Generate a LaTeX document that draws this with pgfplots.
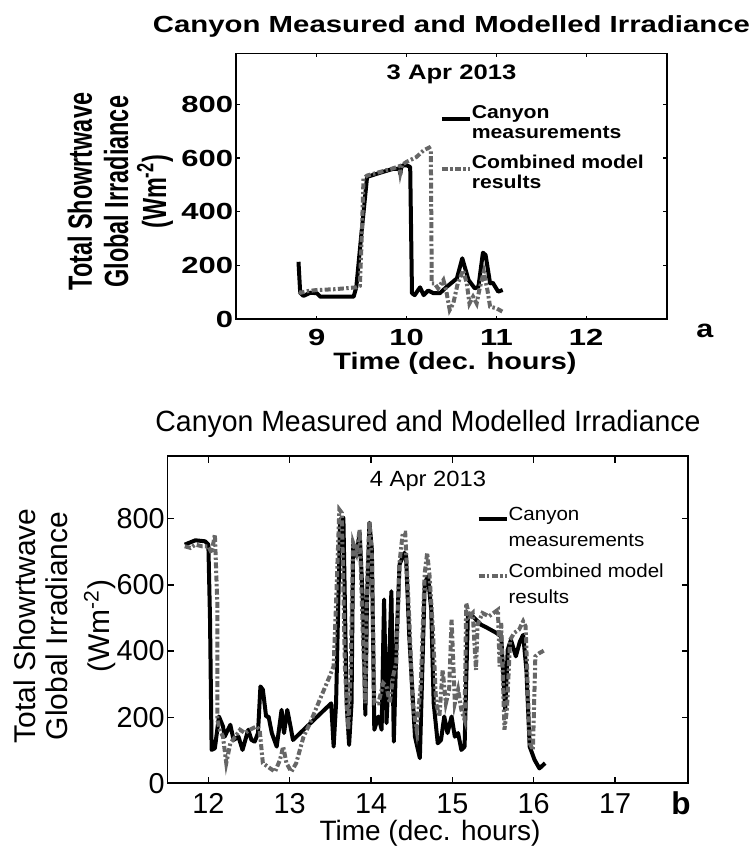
\documentclass[border=0pt]{standalone}
\usepackage{pgfplots}
\pgfplotsset{compat=1.18}
\usepackage{fontspec}
\setmainfont{Liberation Sans}
\newfontfamily\TopFont[FakeStretch=1.22]{Liberation Sans}
\newfontfamily\TopTitleFont[FakeStretch=1.26]{Liberation Sans}
\newfontfamily\TopTickFont[FakeStretch=1.33]{Liberation Sans}
\newfontfamily\TopYFont[FakeStretch=0.70]{Liberation Sans}
\newfontfamily\TopLegFont[FakeStretch=1.14]{Liberation Sans}
\newfontfamily\BotFont{Liberation Sans}
\newfontfamily\BotTitleFont[FakeStretch=0.97]{Liberation Sans}
\newfontfamily\BotWideFont[FakeStretch=1.08]{Liberation Sans}
\definecolor{modelgray}{RGB}{102,102,102}

\pgfplotsset{
  common/.style={
    scale only axis,
    ymin=0, ymax=990,
    ytick={0,200,400,600,800},
    /pgf/number format/assume math mode=true,
    axis line style={line width=0.8pt},
    tick style={line width=0.6pt, black},
    tick align=inside,
    legend cell align=left,
    legend image code/.code={\draw[##1] (0pt,0pt) -- (14pt,0pt);},
  },
  measured/.style={black, line width=2pt, line join=round},
  model/.style={modelgray, line width=2pt, dash pattern=on 3pt off 1.2pt on 1.2pt off 1.2pt},
}

\begin{document}
\begin{tikzpicture}
\useasboundingbox (0,0) rectangle (376.5pt,424pt);

% ---------------- top panel ----------------
\begin{axis}[common,
  at={(118pt,264.35pt)}, anchor=south west,
  width=215.5pt, height=133pt,
  xmin=8.1, xmax=12.9,
  xtick={9,10,11,12},
  major tick length=1.8pt,
  yticklabel style={font=\TopTickFont\bfseries\fontsize{11.65}{13}\selectfont, anchor=east, inner sep=0pt, xshift=-1.2pt},
  xticklabel style={font=\TopTickFont\bfseries\fontsize{11.65}{13}\selectfont, anchor=north, inner sep=0pt, yshift=-4.9pt},
  legend style={at={(0.472,0.8066)}, anchor=north west, draw=none, fill=none, inner sep=0pt,
    column sep=0pt, row sep=11.5pt,
    font=\TopLegFont\bfseries\fontsize{9.3}{9.75}\selectfont,
    nodes={inner sep=0pt}},
]
\addplot[measured] coordinates {
(8.796,214) (8.815,99) (8.85,87) (8.93,99) (9.0,97) (9.04,84) (9.41,84) (9.44,120)
(9.5,330) (9.56,530) (9.7,545) (9.85,560) (9.92,560) (9.93,540) (9.94,565) (9.96,573)
(10.0,573) (10.04,567) (10.06,97) (10.09,90) (10.15,119) (10.19,90) (10.24,107) (10.3,97)
(10.37,97) (10.44,119) (10.56,152) (10.62,227) (10.69,146) (10.76,115) (10.8,121)
(10.85,248) (10.88,239) (10.93,134) (10.96,136) (11.02,103) (11.07,109)
};
\addlegendentry{\begin{tabular}{@{}l@{}}Canyon\\measurements\end{tabular}}
\addplot[model] coordinates {
(8.8,103) (8.82,99) (8.9,105) (9.0,109) (9.2,112) (9.44,119) (9.48,125) (9.5,300)
(9.52,524) (9.56,535) (9.7,548) (9.85,562) (9.92,570) (9.93,545) (9.95,575) (10.0,586)
(10.11,604) (10.19,629) (10.25,639) (10.27,629) (10.28,134) (10.31,134) (10.35,115)
(10.41,146) (10.44,109) (10.48,35) (10.52,59) (10.57,134) (10.63,183) (10.67,134)
(10.7,59) (10.74,84) (10.78,59) (10.81,109) (10.86,177) (10.9,109) (10.93,47)
(11.0,41) (11.07,28)
};
\addlegendentry{\begin{tabular}{@{}l@{}}Combined model\\results\end{tabular}}
\end{axis}

% ---------------- bottom panel ----------------
\begin{axis}[common,
  at={(83.85pt,32.35pt)}, anchor=south west,
  width=260.3pt, height=163.65pt,
  xmin=11.5, xmax=17.9,
  xtick={12,13,14,15,16,17},
  major tick length=3.3pt,
  yticklabel style={font=\BotFont\fontsize{14.4}{16}\selectfont, anchor=east, inner sep=0pt, xshift=-1.35pt},
  xticklabel style={font=\BotFont\fontsize{14.4}{16}\selectfont, anchor=north, inner sep=0pt, yshift=-5pt},
  legend style={at={(0.5927,0.8587)}, anchor=north west, draw=none, fill=none, inner sep=0pt,
    column sep=0pt, row sep=11.5pt,
    font=\BotWideFont\fontsize{9.5}{13}\selectfont,
    nodes={inner sep=0pt}},
]
\addplot[measured] coordinates {
(11.71,722) (11.84,735) (11.96,732) (12.0,722) (12.02,500) (12.04,101) (12.08,106)
(12.13,202) (12.18,172) (12.2,141) (12.27,177) (12.31,131) (12.37,141) (12.42,101)
(12.49,162) (12.53,131) (12.57,126) (12.61,152) (12.64,293) (12.67,283) (12.71,202)
(12.74,202) (12.78,152) (12.84,111) (12.9,222) (12.93,152) (12.97,222) (13.01,172)
(13.04,131) (13.51,242) (13.54,111) (13.57,242) (13.62,798) (13.66,803) (13.7,242)
(13.73,116) (13.76,242) (13.78,722) (13.82,687) (13.86,758) (13.9,545) (13.93,207)
(13.95,545) (13.98,788) (14.01,707) (14.04,162) (14.09,202) (14.13,162) (14.16,556)
(14.19,182) (14.22,343) (14.25,581) (14.28,126) (14.31,404) (14.35,662) (14.41,697)
(14.43,687) (14.47,444) (14.54,141) (14.6,76) (14.66,606) (14.70,626) (14.74,525)
(14.77,242) (14.82,121) (14.86,131) (14.9,202) (14.94,152) (14.99,202) (15.03,141)
(15.07,152) (15.11,101) (15.15,111) (15.19,505) (15.25,505) (15.35,480) (15.43,470)
(15.54,455) (15.6,444) (15.65,222) (15.68,404) (15.72,434) (15.78,384) (15.83,429)
(15.87,449) (15.91,343) (15.95,111) (16.01,71) (16.07,45) (16.14,61)
};
\addlegendentry{\begin{tabular}{@{}l@{}}Canyon\\measurements\end{tabular}}
\addplot[model] coordinates {
(11.71,717) (11.78,712) (11.84,722) (11.92,717) (12.0,717) (12.04,697) (12.08,753)
(12.11,545) (12.11,192) (12.14,162) (12.18,141) (12.22,61) (12.27,121) (12.33,141)
(12.39,162) (12.45,152) (12.51,162) (12.59,172) (12.63,162) (12.67,61) (12.76,45)
(12.82,35) (12.88,71) (12.92,111) (12.96,61) (13.02,35) (13.08,61) (13.17,141)
(13.25,182) (13.37,253) (13.49,323) (13.54,354) (13.57,545) (13.61,828) (13.64,818)
(13.68,343) (13.72,162) (13.75,343) (13.78,727) (13.82,697) (13.86,768) (13.9,444)
(13.93,242) (13.95,596) (13.98,793) (14.01,687) (14.04,242) (14.09,242) (14.15,303)
(14.19,293) (14.23,242) (14.27,323) (14.31,364) (14.35,667) (14.39,758) (14.42,758)
(14.47,495) (14.51,242) (14.56,162) (14.61,293) (14.66,636) (14.69,697) (14.72,626)
(14.76,465) (14.8,242) (14.84,202) (14.88,343) (14.92,242) (14.96,283) (14.99,495)
(15.03,242) (15.07,283) (15.11,222) (15.15,192) (15.17,545) (15.21,505) (15.25,515)
(15.29,343) (15.31,480) (15.37,515) (15.45,505) (15.56,525) (15.58,353) (15.6,485)
(15.64,162) (15.67,222) (15.71,434) (15.76,455) (15.82,465) (15.87,490) (15.9,475)
(15.95,121) (15.99,101) (16.02,384) (16.07,394) (16.13,402)
};
\addlegendentry{\begin{tabular}{@{}l@{}}Combined model\\results\end{tabular}}
\end{axis}

% ---------------- texts (pixel coordinates from top left) ----------------
\begin{scope}[x=0.5pt,y=-0.5pt,shift={(0pt,424pt)}]
% top panel
\node[anchor=base, inner sep=0pt, font=\TopTitleFont\bfseries\fontsize{11.65}{14}\selectfont] at (451.5,32.7) {Canyon Measured and Modelled Irradiance};
\node[anchor=base, inner sep=0pt, font=\TopFont\bfseries\fontsize{10.5}{12}\selectfont] at (451.5,80) {3 Apr 2013};
\node[anchor=base, inner sep=0pt, font=\TopFont\bfseries\fontsize{11.85}{14}\selectfont] at (455,369.5) {Time (dec. hours)};
\node[anchor=base west, inner sep=0pt, font=\TopFont\bfseries\fontsize{12.5}{14}\selectfont] at (696,338) {a};
\node[rotate=90, anchor=base, inner sep=0pt, font=\TopYFont\bfseries\fontsize{16.75}{18}\selectfont] at (91.8,191.7) {Total Showrtwave};
\node[rotate=90, anchor=base, inner sep=0pt, font=\TopYFont\bfseries\fontsize{16.75}{18}\selectfont] at (128,191.7) {Global Irradiance};
\node[rotate=90, anchor=base, inner sep=0pt, font=\TopYFont\bfseries\fontsize{16.75}{18}\selectfont] at (166,191.7) {(Wm\textsuperscript{-2})};
% bottom panel
\node[anchor=base, inner sep=0pt, font=\BotTitleFont\fontsize{14.65}{17}\selectfont] at (428,431.7) {Canyon Measured and Modelled Irradiance};
\node[anchor=base, inner sep=0pt, font=\BotWideFont\fontsize{11}{13}\selectfont] at (428,486.7) {4 Apr 2013};
\node[anchor=base, inner sep=0pt, font=\BotFont\fontsize{14}{16}\selectfont] at (430,840) {Time (dec. hours)};
\node[anchor=base west, inner sep=0pt, font=\BotFont\bfseries\fontsize{15.75}{18}\selectfont] at (671,815) {b};
\node[rotate=90, anchor=base, inner sep=0pt, font=\BotFont\fontsize{15}{17}\selectfont] at (35,626) {Total Showrtwave};
\node[rotate=90, anchor=base, inner sep=0pt, font=\BotFont\fontsize{15}{17}\selectfont] at (68,626) {Global Irradiance};
\node[rotate=90, anchor=base, inner sep=0pt, font=\BotFont\fontsize{15}{17}\selectfont] at (109,626) {(Wm\textsuperscript{-2})};
\end{scope}
\end{tikzpicture}
\end{document}
